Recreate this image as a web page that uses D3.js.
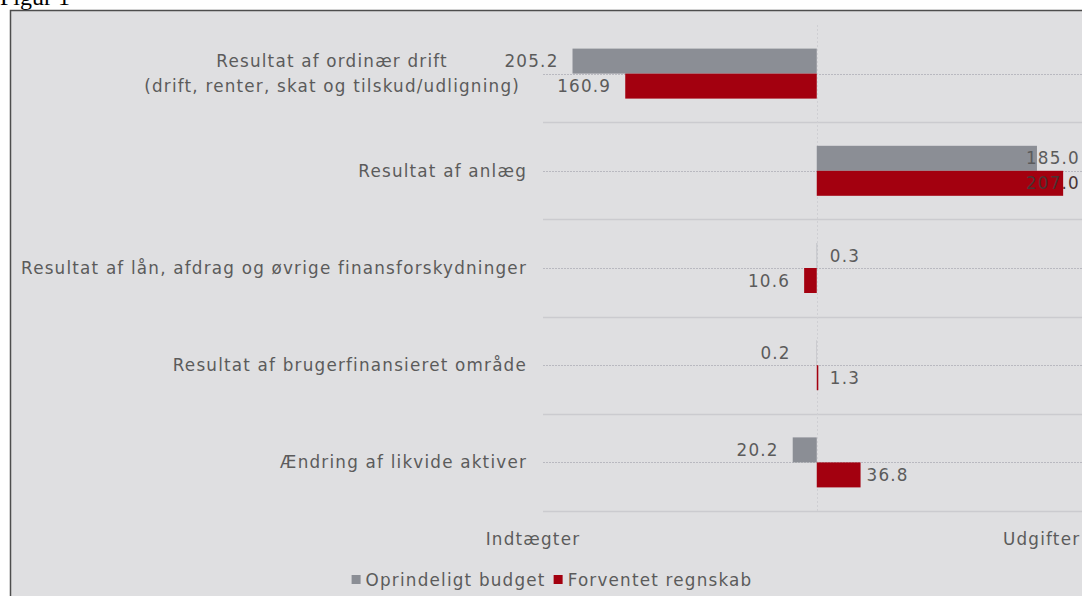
<!DOCTYPE html>
<html>
<head>
<meta charset="utf-8">
<script src="https://cdn.jsdelivr.net/npm/d3@7"></script>
<style>
  body { margin: 0; background: #fff; overflow: hidden; }
  text { font-family: "DejaVu Sans", sans-serif; letter-spacing: 1.2px; }
</style>
</head>
<body>
<script>
(function(){

//chart data
var categories = [
    ["Resultat af ordinær drift", "(drift, renter, skat og tilskud/udligning)"],
    ["Resultat af anlæg"],
    ["Resultat af lån, afdrag og øvrige finansforskydninger"],
    ["Resultat af brugerfinansieret område"],
    ["Ændring af likvide aktiver"]
];
var seriesNames = ["Oprindeligt budget", "Forventet regnskab"];
var budget = [-205.2, 185.0, 0.3, -0.2, -20.2];
var regnskab = [-160.9, 207.0, -10.6, 1.3, 36.8];
var sideLabels = ["Indtægter", "Udgifter"];

//frame and layout
var width = 1082,
    height = 596,
    fontSize = "16.8px",
    labelRight = 527,
    lineGap = 25,
    textColor = "#5b5b5b",
    colors = ["#8b8e95", "#a3000f"];

var svg = d3.select("body")
    .append("svg")
    .attr("width", width)
    .attr("height", height);

//figure caption, cut by the top of the page
svg.append("text")
    .attr("x", 0)
    .attr("y", 5)
    .style("font-family", "'Liberation Serif', serif")
    .style("letter-spacing", "0px")
    .style("font-size", "24px")
    .attr("fill", "#000")
    .text("Figur 1");

//chart background
svg.append("rect")
    .attr("x", 10.5)
    .attr("y", 10.5)
    .attr("width", width)
    .attr("height", height)
    .attr("fill", "#dfdfe1")
    .attr("stroke", "#4d4d4d")
    .attr("stroke-width", 1.5);

//scales
var xScale = d3.scaleLinear()
    .domain([-230, 222])
    .range([543, 1081]);

var keys = categories.map(function(d, i){ return i; });

var yScale = d3.scaleBand()
    .domain(keys)
    .range([25, 511]);

var bw = yScale.bandwidth();
var ySub = d3.scaleBand()
    .domain([0, 1])
    .range([bw / 2 - 25, bw / 2 + 25]);

//grid lines: band boundaries and band centers
var gridY = [];
keys.forEach(function(k, i){
    gridY.push({y: yScale(k) + bw / 2, c: true});
    gridY.push({y: yScale(k) + bw, c: false});
});

svg.selectAll(".grid")
    .data(gridY)
    .enter()
    .append("line")
    .attr("class", "grid")
    .attr("x1", xScale.range()[0])
    .attr("x2", width)
    .attr("y1", function(d){ return Math.round(d.y) + 0.5; })
    .attr("y2", function(d){ return Math.round(d.y) + 0.5; })
    .attr("stroke", function(d){ return d.c ? "#b9b9c0" : "#cbcbcf"; })
    .attr("stroke-width", function(d){ return d.c ? 1 : 1.5; })
    .attr("stroke-dasharray", function(d){ return d.c ? "2,1" : null; });

//zero line
svg.append("line")
    .attr("x1", Math.round(xScale(0)) + 0.5)
    .attr("x2", Math.round(xScale(0)) + 0.5)
    .attr("y1", yScale.range()[0])
    .attr("y2", yScale.range()[1])
    .attr("stroke", "#cfcfd3")
    .attr("stroke-dasharray", "2,2");

//bars and value labels
var rows = [];
keys.forEach(function(k){
    rows.push({cat: k, s: 0, v: budget[k]});
    rows.push({cat: k, s: 1, v: regnskab[k]});
});

svg.selectAll(".bar")
    .data(rows)
    .enter()
    .append("rect")
    .attr("class", "bar")
    .attr("x", function(d){ return xScale(Math.min(0, d.v)); })
    .attr("y", function(d){ return yScale(d.cat) + ySub(d.s); })
    .attr("width", function(d){ return Math.abs(xScale(d.v) - xScale(0)); })
    .attr("height", ySub.bandwidth())
    .attr("fill", function(d){ return colors[d.s]; });

svg.selectAll(".val")
    .data(rows)
    .enter()
    .append("text")
    .attr("class", "val")
    .attr("x", function(d){
        if (d.v < 0) {
            return Math.min(xScale(d.v), xScale(0) - 12) - 14;
        }
        return Math.max(xScale(d.v) + 6, xScale(0) + 13);
    })
    .attr("y", function(d){ return yScale(d.cat) + ySub(d.s) + ySub.bandwidth() / 2; })
    .attr("dy", "0.36em")
    .attr("text-anchor", function(d){ return d.v < 0 ? "end" : "start"; })
    .attr("fill", function(d){ return d.v > 150 && d.s == 1 ? "#4a3434" : textColor; })
    .style("font-size", fontSize)
    .text(function(d){ return d3.format(".1f")(Math.abs(d.v)); })
    .each(function(d){
        //pull labels that would run off the right edge back inside
        var w = this.getComputedTextLength();
        var x = +d3.select(this).attr("x");
        if (d.v > 0 && x + w > width - 2) {
            d3.select(this).attr("x", width - 2 - w);
        }
    });

//category labels
var catLabels = svg.selectAll(".cat")
    .data(categories)
    .enter()
    .append("text")
    .attr("class", "cat")
    .attr("y", function(d, i){ return yScale(i) + bw / 2 - (d.length - 1) * lineGap / 2; })
    .attr("text-anchor", function(d){ return d.length > 1 ? "middle" : "end"; })
    .attr("fill", textColor)
    .style("font-size", fontSize);

catLabels.selectAll("tspan")
    .data(function(d){ return d; })
    .enter()
    .append("tspan")
    .attr("dy", function(d, i){ return i == 0 ? "0.36em" : lineGap + "px"; })
    .text(function(d){ return d; });

//multi-line labels are centered as a block that ends a bit left of the single ones
catLabels.each(function(d){
    var spans = d3.select(this).selectAll("tspan");
    if (d.length > 1) {
        var maxW = d3.max(spans.nodes(), function(n){ return n.getComputedTextLength(); });
        spans.attr("x", labelRight - 7 - maxW / 2);
    } else {
        spans.attr("x", labelRight);
    }
});

//side labels (income / expenses)
svg.selectAll(".side")
    .data(sideLabels)
    .enter()
    .append("text")
    .attr("class", "side")
    .attr("x", function(d, i){ return i == 0 ? 533 : 1003; })
    .attr("y", 545)
    .attr("text-anchor", function(d, i){ return i == 0 ? "middle" : "start"; })
    .attr("fill", textColor)
    .style("font-size", fontSize)
    .text(function(d){ return d; });

//legend, centered under the plot
var legend = svg.append("g");

var lx = 0;
seriesNames.forEach(function(name, i){
    legend.append("rect")
        .attr("x", lx)
        .attr("y", -5)
        .attr("width", 9)
        .attr("height", 9)
        .attr("fill", colors[i]);
    var t = legend.append("text")
        .attr("x", lx + 14)
        .attr("y", 0)
        .attr("dy", "0.36em")
        .attr("fill", textColor)
        .style("font-size", fontSize)
        .text(name);
    lx += 14 + t.node().getComputedTextLength() + 8;
});
legend.attr("transform", "translate(" + (552 - (lx - 8) / 2) + ",580)");

})();
</script>
</body>
</html>
